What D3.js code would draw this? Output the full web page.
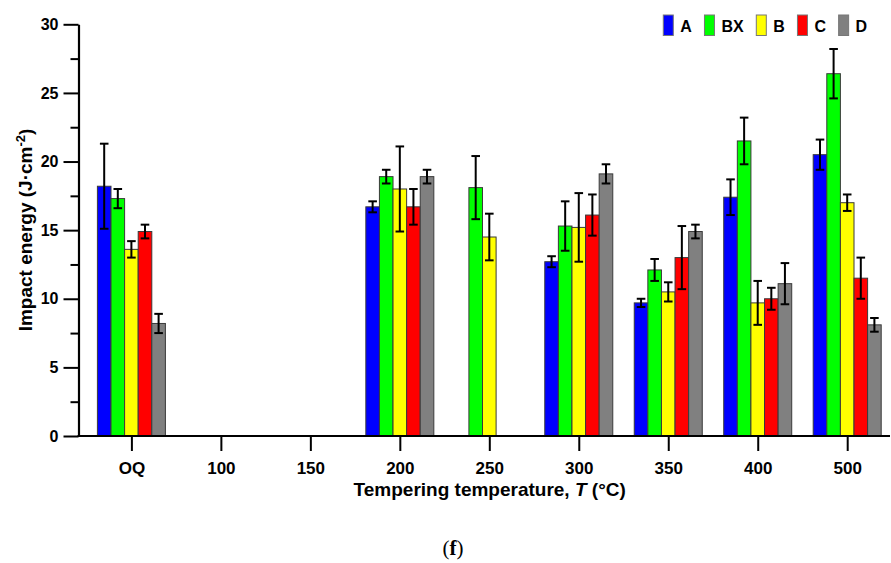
<!DOCTYPE html>
<html>
<head>
<meta charset="utf-8">
<script src="https://cdn.jsdelivr.net/npm/d3@7/dist/d3.min.js"></script>
<style>
  html, body { margin: 0; padding: 0; background: #fff; }
  svg { display: block; font-family: "Liberation Sans", Arial, sans-serif; }
</style>
</head>
<body>
<svg id="chart" width="891" height="563"></svg>
<script>
const categories = ["OQ", "100", "150", "200", "250", "300", "350", "400", "500"];
const seriesNames = ["A", "BX", "B", "C", "D"];
const seriesColors = ["#0000ff", "#00ff00", "#ffff00", "#ff0000", "#808080"];
const valuesA  = [18.2, null, null, 16.7, null, 12.7,  9.7, 17.4, 20.5];
const errorsA  = [ 3.1, null, null,  0.4, null,  0.4,  0.3,  1.3,  1.1];
const valuesBX = [17.3, null, null, 18.9, 18.1, 15.3, 12.1, 21.5, 26.4];
const errorsBX = [ 0.7, null, null,  0.5,  2.3,  1.8,  0.8,  1.7,  1.8];
const valuesB  = [13.6, null, null, 18.0, 14.5, 15.2, 10.5,  9.7, 17.0];
const errorsB  = [ 0.6, null, null,  3.1,  1.7,  2.5,  0.7,  1.6,  0.6];
const valuesC  = [14.9, null, null, 16.7, null, 16.1, 13.0, 10.0, 11.5];
const errorsC  = [ 0.5, null, null,  1.3, null,  1.5,  2.3,  0.8,  1.5];
const valuesD  = [ 8.2, null, null, 18.9, null, 19.1, 14.9, 11.1,  8.1];
const errorsD  = [ 0.7, null, null,  0.5, null,  0.7,  0.5,  1.5,  0.5];
const yMajorTicks = [0, 5, 10, 15, 20, 25, 30];
const yMinorTicks = [2.5, 7.5, 12.5, 17.5, 22.5, 27.5];

const seriesValues = [valuesA, valuesBX, valuesB, valuesC, valuesD];
const seriesErrors = [errorsA, errorsBX, errorsB, errorsC, errorsD];

const svg = d3.select("#chart");
svg.append("rect").attr("width", 891).attr("height", 563).attr("fill", "#fff");

const x = d3.scalePoint().domain(categories).range([131.4, 847.2]);
const xs = d3.scaleBand().domain(seriesNames).range([-34, 34]);
const y = d3.scaleLinear().domain([0, 30]).range([436, 24.3]);

const records = [];
seriesNames.forEach((s, si) => {
  categories.forEach((c, ci) => {
    const v = seriesValues[si][ci];
    if (v != null) records.push({ s, si, c, v, e: seriesErrors[si][ci] });
  });
});

// bars
svg.append("g").selectAll("rect").data(records).join("rect")
  .attr("x", d => x(d.c) + xs(d.s))
  .attr("y", d => y(d.v))
  .attr("width", xs.bandwidth())
  .attr("height", d => y(0) - y(d.v))
  .attr("fill", d => seriesColors[d.si])
  .attr("stroke", "#3a3a3a")
  .attr("stroke-width", 1);

// error bars
const eg = svg.append("g").attr("stroke", "#000").attr("stroke-width", 2);
records.forEach(d => {
  const cx = x(d.c) + xs(d.s) + xs.bandwidth() / 2;
  eg.append("line").attr("x1", cx).attr("x2", cx).attr("y1", y(d.v + d.e)).attr("y2", y(d.v - d.e));
  eg.append("line").attr("x1", cx - 4.3).attr("x2", cx + 4.3).attr("y1", y(d.v + d.e)).attr("y2", y(d.v + d.e));
  eg.append("line").attr("x1", cx - 4.3).attr("x2", cx + 4.3).attr("y1", y(d.v - d.e)).attr("y2", y(d.v - d.e));
});

// y axis
const yAxis = svg.append("g").attr("transform", "translate(78.5,0)")
  .call(d3.axisLeft(y).tickValues(yMajorTicks).tickSize(15).tickPadding(5).tickSizeOuter(0));
yAxis.select(".domain").attr("stroke-width", 2.2);
yAxis.selectAll(".tick line").attr("stroke-width", 2);
yAxis.selectAll("text").attr("font-size", 16).attr("font-weight", "bold")
  .attr("font-family", "Liberation Sans, Arial, sans-serif").attr("fill", "#000");
svg.append("g").attr("transform", "translate(78.5,0)")
  .call(d3.axisLeft(y).tickValues(yMinorTicks).tickSize(8).tickFormat("").tickSizeOuter(0))
  .call(g => g.select(".domain").remove())
  .selectAll(".tick line").attr("stroke-width", 2);

// x axis
const xAxis = svg.append("g").attr("transform", "translate(0,436)")
  .call(d3.axisBottom(x).tickSize(15).tickSizeOuter(0));
xAxis.select(".domain").attr("d", "M77.5,0H890").attr("stroke-width", 2.2);
xAxis.selectAll(".tick line").attr("stroke-width", 2);
xAxis.selectAll("text").attr("font-size", 17).attr("font-weight", "bold")
  .attr("font-family", "Liberation Sans, Arial, sans-serif").attr("fill", "#000")
  .attr("y", 37.5).attr("dy", 0);

// axis titles
const xt = svg.append("text").attr("x", 489.7).attr("y", 496)
  .attr("text-anchor", "middle").attr("font-size", 19).attr("font-weight", "bold");
xt.append("tspan").text("Tempering temperature, ");
xt.append("tspan").attr("font-style", "italic").text("T");
xt.append("tspan").text(" (°C)");

const yt = svg.append("text").attr("transform", "translate(31.7,230) rotate(-90)")
  .attr("text-anchor", "middle").attr("font-size", 19).attr("font-weight", "bold");
yt.append("tspan").text("Impact energy (J·cm");
yt.append("tspan").attr("font-size", 13).attr("dy", -7).text("-2");
yt.append("tspan").attr("dy", 7).text(")");

// legend
const legend = svg.append("g");
let lx = 663.3;
seriesNames.forEach((s, i) => {
  legend.append("rect").attr("x", lx).attr("y", 15).attr("width", 10).attr("height", 20.5)
    .attr("fill", seriesColors[i]).attr("stroke", "#777").attr("stroke-width", 1);
  const t = legend.append("text").attr("x", lx + 17).attr("y", 32.3)
    .attr("font-size", 16).attr("font-weight", "bold").text(s);
  lx += 17 + t.node().getComputedTextLength() + 12.6;
});

// panel label
const pl = svg.append("text").attr("x", 453).attr("y", 555).attr("text-anchor", "middle")
  .attr("font-family", "Liberation Serif, Times New Roman, serif").attr("font-size", 21);
pl.append("tspan").text("(");
pl.append("tspan").attr("font-weight", "bold").text("f");
pl.append("tspan").text(")");
</script>
</body>
</html>
